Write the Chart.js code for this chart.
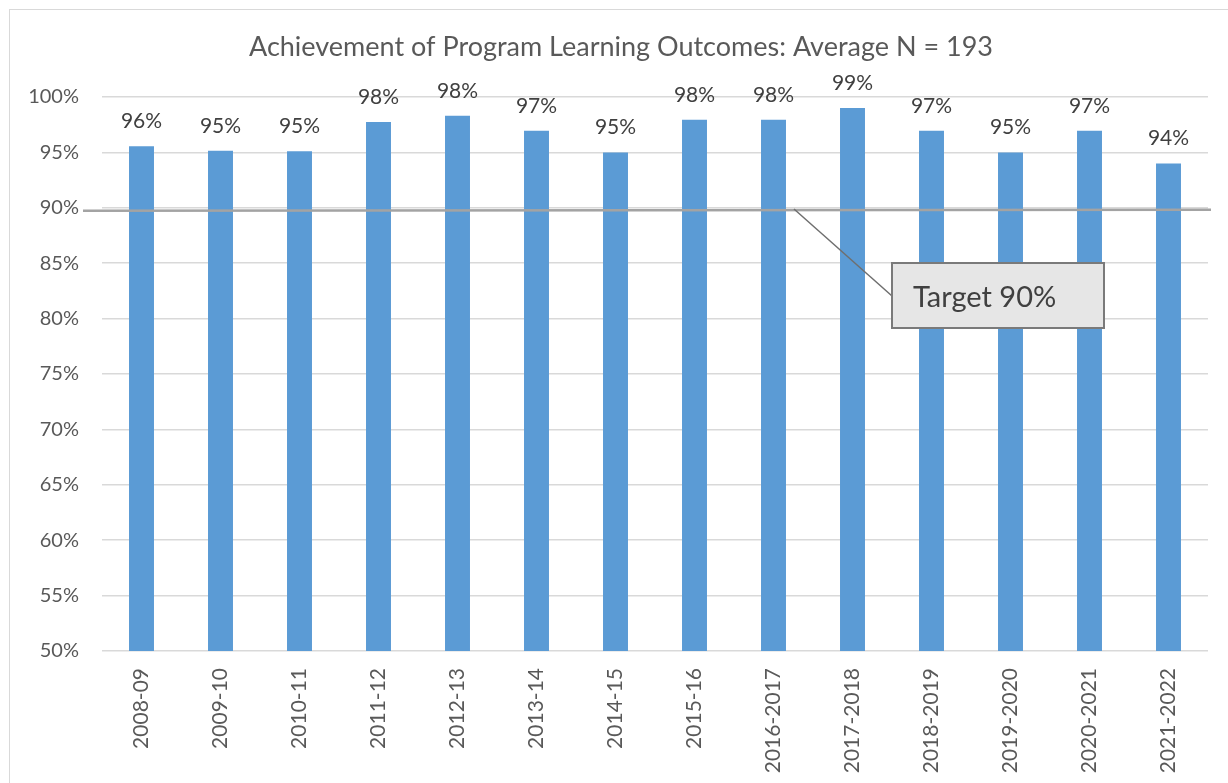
<!DOCTYPE html>
<html>
<head>
<meta charset="utf-8">
<script src="https://cdn.jsdelivr.net/npm/chart.js@4/dist/chart.umd.min.js"></script>
<style>
  html, body { margin: 0; padding: 0; background: #fff; overflow: hidden; }
  #wrap { position: relative; width: 1228px; height: 783px; }
  #frame { position: absolute; left: 9px; top: 9px; width: 1240px; height: 800px; border: 1.5px solid #d9d9d9; box-sizing: border-box; }
  canvas { position: absolute; left: 0; top: 0; }
</style>
</head>
<body>
<div id="wrap">
  <div id="frame"></div>
  <canvas id="c" width="1228" height="783"></canvas>
</div>
<script>
const titleText = "Achievement of Program Learning Outcomes: Average N = 193";
const categories = ["2008-09","2009-10","2010-11","2011-12","2012-13","2013-14","2014-15","2015-16","2016-2017","2017-2018","2018-2019","2019-2020","2020-2021","2021-2022"];
const values = [95.55, 95.15, 95.1, 97.75, 98.3, 96.95, 95.0, 97.95, 97.95, 99.0, 96.95, 95.0, 96.95, 94.0];
const labels = ["96%","95%","95%","98%","98%","97%","95%","98%","98%","99%","97%","95%","97%","94%"];
const yTicks = [50, 55, 60, 65, 70, 75, 80, 85, 90, 95, 100];
const targetLine = [89.73, 89.82];
const targetLabel = "Target 90%";

const FONT = "Lato, 'Open Sans', sans-serif";

const overlay = {
  id: 'overlay',
  afterDatasetsDraw(chart) {
    const ctx = chart.ctx;
    const ca = chart.chartArea;
    const y = chart.scales.y;
    // title
    ctx.save();
    ctx.fillStyle = '#595959';
    ctx.font = '27px ' + FONT;
    ctx.textAlign = 'center';
    ctx.textBaseline = 'alphabetic';
    ctx.fillText(titleText, 621, 56);
    // data labels
    ctx.fillStyle = '#404040';
    ctx.font = '21px ' + FONT;
    const meta = chart.getDatasetMeta(0);
    meta.data.forEach((bar, i) => {
      ctx.fillText(labels[i], bar.x, bar.y - 18);
    });
    // target line
    ctx.strokeStyle = '#a3a3a3';
    ctx.lineWidth = 2.5;
    ctx.beginPath();
    ctx.moveTo(ca.left - 19, y.getPixelForValue(targetLine[0]));
    ctx.lineTo(ca.right + 3, y.getPixelForValue(targetLine[1]));
    ctx.stroke();
    // leader line
    ctx.strokeStyle = '#6f6f6f';
    ctx.lineWidth = 1.5;
    ctx.beginPath();
    ctx.moveTo(794, 209);
    ctx.lineTo(892, 296);
    ctx.stroke();
    // callout box
    ctx.fillStyle = '#e6e6e6';
    ctx.fillRect(892, 263, 212, 65);
    ctx.strokeStyle = '#7a7a7a';
    ctx.lineWidth = 2;
    ctx.strokeRect(892, 263, 212, 65);
    ctx.fillStyle = '#404040';
    ctx.font = '29px ' + FONT;
    ctx.textAlign = 'left';
    ctx.fillText(targetLabel, 913, 307);
    ctx.restore();
  }
};

new Chart(document.getElementById('c'), {
  type: 'bar',
  data: {
    labels: categories,
    datasets: [{
      data: values,
      backgroundColor: '#5b9bd5',
      borderWidth: 0,
      barPercentage: 0.632,
      categoryPercentage: 0.5
    }]
  },
  options: {
    responsive: false,
    animation: false,
    devicePixelRatio: 1,
    layout: { padding: { top: 97, right: 20, left: 0, bottom: 0 } },
    plugins: { legend: { display: false }, tooltip: { enabled: false }, title: { display: false } },
    scales: {
      x: {
        grid: { display: false, drawTicks: false },
        border: { display: false },
        ticks: {
          color: '#595959',
          font: { family: FONT, size: 21 },
          minRotation: 90, maxRotation: 90,
          padding: 17,
          autoSkip: false
        },
        afterFit(s) { s.height = 132; }
      },
      y: {
        min: 50, max: 100,
        afterBuildTicks(s) { s.ticks = yTicks.map(v => ({ value: v })); },
        grid: { color: '#d9d9d9', lineWidth: 1.5, drawTicks: false },
        border: { display: false },
        ticks: {
          color: '#595959',
          font: { family: FONT, size: 20 },
          padding: 23,
          callback: v => v + '%'
        },
        afterFit(s) { s.width = 102; }
      }
    }
  },
  plugins: [overlay]
});
</script>
</body>
</html>
